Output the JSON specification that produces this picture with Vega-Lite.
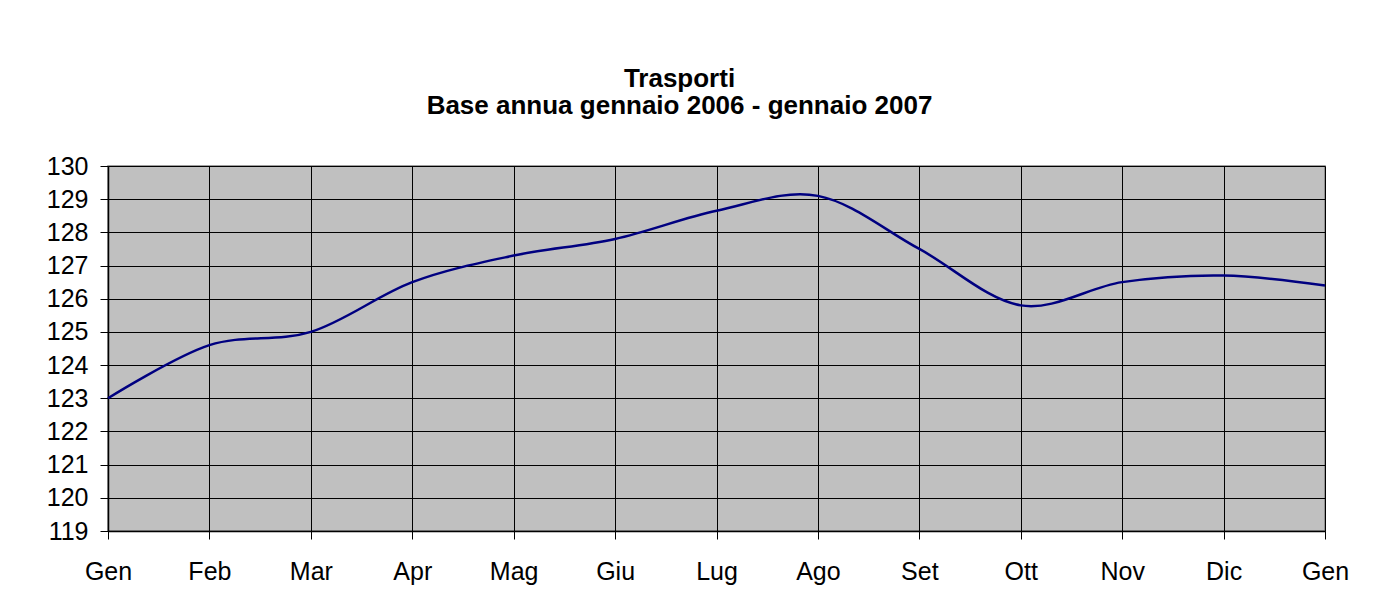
{
  "$schema": "https://vega.github.io/schema/vega-lite/v6.json",
  "autosize": {"type": "none"},
  "width": 1217,
  "height": 365,
  "padding": {"left": 108, "top": 166, "right": 52, "bottom": 84},
  "background": "white",
  "title": {
    "text": ["Trasporti", "Base annua gennaio 2006 - gennaio 2007"],
    "font": "Liberation Sans",
    "fontSize": 26,
    "fontWeight": "bold",
    "lineHeight": 27,
    "color": "black",
    "anchor": "middle",
    "dx": -37,
    "offset": 35
  },
  "data": {
    "values": [
      {"i": 0, "mese": "Gen", "valore": 123.0},
      {"i": 1, "mese": "Feb", "valore": 124.6},
      {"i": 2, "mese": "Mar", "valore": 125.0},
      {"i": 3, "mese": "Apr", "valore": 126.5},
      {"i": 4, "mese": "Mag", "valore": 127.3},
      {"i": 5, "mese": "Giu", "valore": 127.8},
      {"i": 6, "mese": "Lug", "valore": 128.65},
      {"i": 7, "mese": "Ago", "valore": 129.1},
      {"i": 8, "mese": "Set", "valore": 127.5},
      {"i": 9, "mese": "Ott", "valore": 125.8},
      {"i": 10, "mese": "Nov", "valore": 126.5},
      {"i": 11, "mese": "Dic", "valore": 126.7},
      {"i": 12, "mese": "Gen", "valore": 126.4}
    ]
  },
  "mark": {"type": "line", "color": "#000080", "strokeWidth": 2.5, "interpolate": "cardinal"},
  "encoding": {
    "x": {
      "field": "i",
      "type": "quantitative",
      "scale": {"domain": [0, 12], "nice": false, "zero": false},
      "axis": {
        "title": null,
        "values": [0, 1, 2, 3, 4, 5, 6, 7, 8, 9, 10, 11, 12],
        "labelExpr": "['Gen','Feb','Mar','Apr','Mag','Giu','Lug','Ago','Set','Ott','Nov','Dic','Gen'][datum.value]",
        "grid": true,
        "gridColor": "black",
        "gridWidth": 1,
        "gridOpacity": 1,
        "domainColor": "black",
        "domainWidth": 1.5,
        "tickColor": "black",
        "tickSize": 8,
        "tickWidth": 1,
        "labelFont": "Liberation Sans",
        "labelFontSize": 25,
        "labelColor": "black",
        "labelPadding": 20,
        "labelFlush": false,
        "labelOverlap": false
      }
    },
    "y": {
      "field": "valore",
      "type": "quantitative",
      "scale": {"domain": [119, 130], "nice": false, "zero": false},
      "axis": {
        "title": null,
        "values": [119, 120, 121, 122, 123, 124, 125, 126, 127, 128, 129, 130],
        "grid": true,
        "gridColor": "black",
        "gridWidth": 1,
        "gridOpacity": 1,
        "domainColor": "black",
        "domainWidth": 1.5,
        "tickColor": "black",
        "tickSize": 8,
        "tickWidth": 1,
        "labelFont": "Liberation Sans",
        "labelFontSize": 25,
        "labelColor": "black",
        "labelPadding": 12,
        "labelFlush": false,
        "labelOverlap": false
      }
    }
  },
  "config": {
    "view": {"fill": "#C0C0C0", "stroke": "#808080", "strokeWidth": 1.5}
  }
}
